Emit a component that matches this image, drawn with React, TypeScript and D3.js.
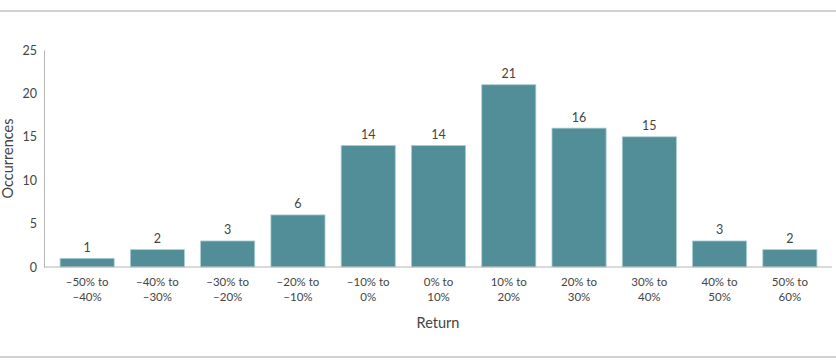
import { useEffect, useRef } from 'react';
import * as d3 from 'd3';

const categories = [
    ['–50% to', '–40%'],
    ['–40% to', '–30%'],
    ['–30% to', '–20%'],
    ['–20% to', '–10%'],
    ['–10% to', '0%'],
    ['0% to', '10%'],
    ['10% to', '20%'],
    ['20% to', '30%'],
    ['30% to', '40%'],
    ['40% to', '50%'],
    ['50% to', '60%'],
];
const occurrences = [1, 2, 3, 6, 14, 14, 21, 16, 15, 3, 2];
const yTicks = [0, 5, 10, 15, 20, 25];

const width = 836;
const height = 362;
const font = 'Lato, "Open Sans", sans-serif';
const textColor = '#444';

export default function App() {
    const ref = useRef<SVGSVGElement>(null);

    useEffect(() => {
        const svg = d3.select(ref.current);
        svg.selectAll('*').remove();

        const labels = categories.map(c => c.join(' '));

        // Band scale for the return buckets.
        const x = d3.scaleBand()
            .domain(labels)
            .range([52, 825])
            .paddingInner(0.23)
            .paddingOuter(0.115);

        // Linear scale for occurrences.
        const y = d3.scaleLinear()
            .domain([0, 25])
            .range([267, 50]);

        // Frame lines at top and bottom.
        svg.append('line')
            .attr('x1', 0).attr('x2', width)
            .attr('y1', 11).attr('y2', 11)
            .attr('stroke', '#d2d2d2').attr('stroke-width', 2);
        svg.append('line')
            .attr('x1', 0).attr('x2', width)
            .attr('y1', 357).attr('y2', 357)
            .attr('stroke', '#d2d2d2').attr('stroke-width', 2);

        // Y axis.
        svg.append('g')
            .attr('transform', 'translate(44,0)')
            .call(d3.axisLeft(y).tickValues(yTicks).tickSize(0).tickPadding(7))
            .call(g => g.select('.domain').attr('stroke', '#b5b5b5'))
            .call(g => g.selectAll('.tick text')
                .attr('font-family', font)
                .attr('font-size', 12.5)
                .attr('fill', textColor));

        // Bars.
        svg.append('g')
            .selectAll('rect')
            .data(occurrences)
            .join('rect')
            .attr('x', (_, i) => x(labels[i])!)
            .attr('y', d => y(d))
            .attr('width', x.bandwidth())
            .attr('height', d => y(0) - y(d))
            .attr('fill', '#528e97')
            .attr('stroke', '#a9cfd4')
            .attr('stroke-width', 0.8);

        // Value labels.
        svg.append('g')
            .selectAll('text')
            .data(occurrences)
            .join('text')
            .attr('x', (_, i) => x(labels[i])! + x.bandwidth() / 2)
            .attr('y', d => y(d) - 6.5)
            .attr('text-anchor', 'middle')
            .attr('font-family', font)
            .attr('font-size', 12.5)
            .attr('fill', textColor)
            .text(d => d);

        // X baseline.
        svg.append('line')
            .attr('x1', 44).attr('x2', 832)
            .attr('y1', y(0)).attr('y2', y(0))
            .attr('stroke', '#b5b5b5');

        // Category labels (two lines).
        const cat = svg.append('g')
            .selectAll('text')
            .data(categories)
            .join('text')
            .attr('x', (_, i) => x(labels[i])! + x.bandwidth() / 2)
            .attr('y', 286)
            .attr('text-anchor', 'middle')
            .attr('font-family', font)
            .attr('font-size', 11.5)
            .attr('fill', textColor);
        cat.append('tspan').text(d => d[0]);
        cat.append('tspan')
            .attr('x', (_, i) => x(labels[i])! + x.bandwidth() / 2)
            .attr('dy', 15)
            .text(d => d[1]);

        // Axis titles.
        svg.append('text')
            .attr('x', (44 + 832) / 2)
            .attr('y', 328)
            .attr('text-anchor', 'middle')
            .attr('font-family', font)
            .attr('font-size', 14.5)
            .attr('fill', textColor)
            .text('Return');
        svg.append('text')
            .attr('transform', `translate(13,${(50 + 267) / 2}) rotate(-90)`)
            .attr('text-anchor', 'middle')
            .attr('font-family', font)
            .attr('font-size', 14.5)
            .attr('fill', textColor)
            .text('Occurrences');
    }, []);

    return (
        <svg
            ref={ref}
            width={width}
            height={height}
            viewBox={`0 0 ${width} ${height}`}
            style={{ position: 'absolute', left: 0, top: 0, background: '#fff' }}
        />
    );
}
